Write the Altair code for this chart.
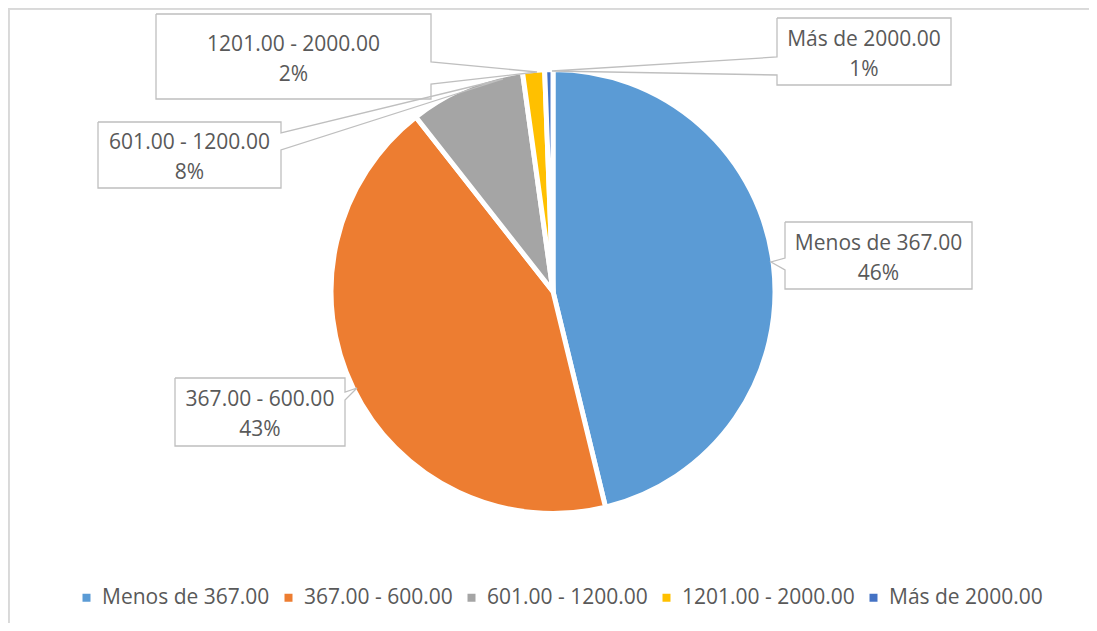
import math
import altair as alt
import pandas as pd

# ---------------- data ----------------
categories = ["Menos de 367.00", "367.00 - 600.00", "601.00 - 1200.00",
              "1201.00 - 2000.00", "Más de 2000.00"]
shares = [46.2, 43.2, 8.4, 1.6, 0.6]
colors = ["#5B9BD5", "#ED7D31", "#A5A5A5", "#FFC000", "#4472C4"]

# ---------------- layout ----------------
W, H = 1081, 615
CX, CY, R = 545, 283.5, 222
FONT = "Open Sans"
TEXT_COLOR = "#595959"
FS = 21
LH = 30

total = sum(shares)
pct_labels = [f"{math.floor(v / total * 100 + 0.5)}%" for v in shares]

pie_df = pd.DataFrame({"cat": categories, "share": shares, "order": list(range(len(categories)))})

# callout boxes (view px): box, pointer side, pointer base, pointer tip
callout_layout = [
    dict(x1=777, x2=964, y1=214, y2=281, side="left", b1=250, b2=262, tx=763, ty=254),
    dict(x1=167, x2=337, y1=370, y2=438, side="right", b1=384, b2=392, tx=349, ty=380),
    dict(x1=90, x2=273, y1=114, y2=180, side="right", b1=125, b2=142, tx=495, ty=71),
    dict(x1=148, x2=423, y1=6, y2=91, side="right", b1=54, b2=76, tx=529, ty=64),
    dict(x1=769, x2=943, y1=10, y2=77, side="left", b1=49, b2=67, tx=544, ty=63),
]

path_rows, text_rows = [], []
for k, c in enumerate(callout_layout):
    x1, x2, y1, y2 = c["x1"], c["x2"], c["y1"], c["y2"]
    if c["side"] == "left":
        pts = [(x1, y1), (x2, y1), (x2, y2), (x1, y2), (x1, c["b2"]),
               (c["tx"], c["ty"]), (x1, c["b1"]), (x1, y1)]
    else:
        pts = [(x1, y1), (x2, y1), (x2, c["b1"]), (c["tx"], c["ty"]),
               (x2, c["b2"]), (x2, y2), (x1, y2), (x1, y1)]
    for i, (px, py) in enumerate(pts):
        path_rows.append({"id": k, "i": i, "x": px, "y": py})
    text_rows.append({"x": (x1 + x2) / 2, "y": (y1 + y2) / 2 + 3 - LH / 2,
                      "label": f"{categories[k]}\n{pct_labels[k]}"})

path_df = pd.DataFrame(path_rows)
text_df = pd.DataFrame(text_rows)

xs = alt.Scale(domain=[0, W], nice=False, zero=False)
ys = alt.Scale(domain=[0, H], nice=False, zero=False, reverse=True)

border_top = alt.Chart(pie_df).mark_rule(color="#D9D9D9", strokeWidth=1.5).encode(
    x=alt.value(0), x2=alt.value(W), y=alt.value(0.75))
border_left = alt.Chart(pie_df).mark_rule(color="#D9D9D9", strokeWidth=1.5).encode(
    x=alt.value(0.75), y=alt.value(0), y2=alt.value(H))

pie = alt.Chart(pie_df).mark_arc(outerRadius=R, stroke="white", strokeWidth=5).encode(
    theta=alt.Theta("share:Q", stack=True),
    color=alt.Color(
        "cat:N",
        scale=alt.Scale(domain=categories, range=colors),
        legend=alt.Legend(
            orient="none", legendX=68, legendY=579, direction="horizontal",
            columns=5, title=None, symbolType="square", symbolSize=64,
            symbolStrokeWidth=0, labelFont=FONT, labelFontSize=FS,
            labelColor=TEXT_COLOR, labelLimit=400, columnPadding=8,
            labelOffset=5, padding=0,
        ),
    ),
    order=alt.Order("order:Q"),
    x=alt.value(CX),
    y=alt.value(CY),
)

lines = alt.Chart(path_df).mark_line(color="#BFBFBF", strokeWidth=1.3).encode(
    x=alt.X("x:Q", scale=xs, axis=None),
    y=alt.Y("y:Q", scale=ys, axis=None),
    detail="id:N",
    order="i:Q",
)

texts = alt.Chart(text_df).mark_text(
    font=FONT, fontSize=FS, color=TEXT_COLOR, lineBreak="\n", lineHeight=LH,
    align="center", baseline="middle",
).encode(
    x=alt.X("x:Q", scale=xs, axis=None),
    y=alt.Y("y:Q", scale=ys, axis=None),
    text="label:N",
)

chart = alt.layer(border_top, border_left, pie, lines, texts).properties(
    width=W, height=H, padding=0, autosize=alt.AutoSizeParams(type="none"),
    background="white",
).configure_view(stroke=None)

chart.save("out.html", embed_options={"renderer": "svg", "actions": False})
